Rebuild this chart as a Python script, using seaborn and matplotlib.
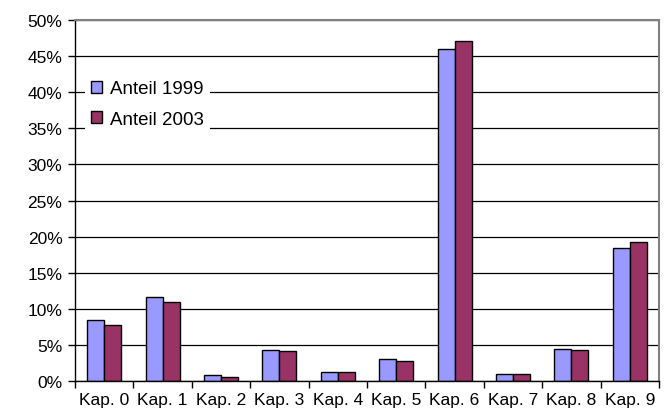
import matplotlib
matplotlib.use("Agg")
import matplotlib.pyplot as plt
import seaborn as sns
import pandas as pd
import numpy as np
from matplotlib.patches import Patch

categories = ["Kap. 0", "Kap. 1", "Kap. 2", "Kap. 3", "Kap. 4",
              "Kap. 5", "Kap. 6", "Kap. 7", "Kap. 8", "Kap. 9"]
anteil_1999 = [8.5, 11.6, 0.8, 4.3, 1.2, 3.0, 46.0, 1.0, 4.5, 18.4]
anteil_2003 = [7.8, 10.9, 0.6, 4.1, 1.2, 2.8, 47.1, 1.0, 4.3, 19.3]
series_names = ["Anteil 1999", "Anteil 2003"]
colors = ["#9999FF", "#993366"]
y_ticks = [0, 5, 10, 15, 20, 25, 30, 35, 40, 45, 50]

df = pd.DataFrame({
    "Kapitel": categories * 2,
    "Anteil": anteil_1999 + anteil_2003,
    "Serie": [series_names[0]] * len(categories) + [series_names[1]] * len(categories),
})

sns.set_theme(style="white")
plt.rcParams["font.family"] = ["Liberation Sans", "DejaVu Sans"]
plt.rcParams["text.color"] = "black"
plt.rcParams["xtick.color"] = "black"
plt.rcParams["ytick.color"] = "black"
plt.rcParams["xtick.labelcolor"] = "black"
plt.rcParams["ytick.labelcolor"] = "black"

fig = plt.figure(figsize=(6.71, 4.10), dpi=100)
ax = fig.add_axes([75 / 671, 1 - 382 / 410, (659 - 75) / 671, (382 - 21) / 410])

sns.barplot(data=df, x="Kapitel", y="Anteil", hue="Serie", order=categories,
            hue_order=series_names, palette=colors, width=0.58,
            edgecolor="black", linewidth=1.0, saturation=1, ax=ax, legend=False)

ax.set_xlim(-0.5, len(categories) - 0.5)
ax.set_ylim(0, 50)
ax.set_yticks(y_ticks)
ax.set_yticklabels([f"{t}%" for t in y_ticks])
ax.yaxis.grid(True, color="black", linewidth=0.9)
ax.set_axisbelow(True)
ax.set_xlabel("")
ax.set_ylabel("")

# category boundaries carry the tick marks, labels sit centred below each group
ax.set_xticks(np.arange(-0.5, len(categories), 1.0), minor=True)
ax.tick_params(axis="x", which="minor", direction="out", length=5, width=1, color="black", bottom=True)
ax.tick_params(axis="x", which="major", length=0, pad=8, labelsize=12.5, labelcolor="black")
ax.tick_params(axis="y", which="major", direction="out", length=5, width=1, color="black",
               left=True, pad=4, labelsize=12.5, labelcolor="black")

for side in ["left", "bottom"]:
    ax.spines[side].set_color("black")
    ax.spines[side].set_linewidth(1.0)
for side in ["top", "right"]:
    ax.spines[side].set_color("#808080")
    ax.spines[side].set_linewidth(1.5)

handles = [Patch(facecolor=c, edgecolor="black", linewidth=1.0) for c in colors]
leg = fig.legend(handles, series_names, loc="center left",
                 bbox_to_anchor=(85 / 671, 1 - 105 / 410), frameon=True,
                 facecolor="white", edgecolor="white", framealpha=1,
                 fontsize=13.5, handlelength=0.6, handleheight=0.6,
                 handletextpad=0.45, labelspacing=0.72, borderpad=0.3,
                 borderaxespad=0, fancybox=False)
leg.get_frame().set_linewidth(0)
for t in leg.get_texts():
    t.set_color("black")

fig.savefig("out.png", dpi=100)
